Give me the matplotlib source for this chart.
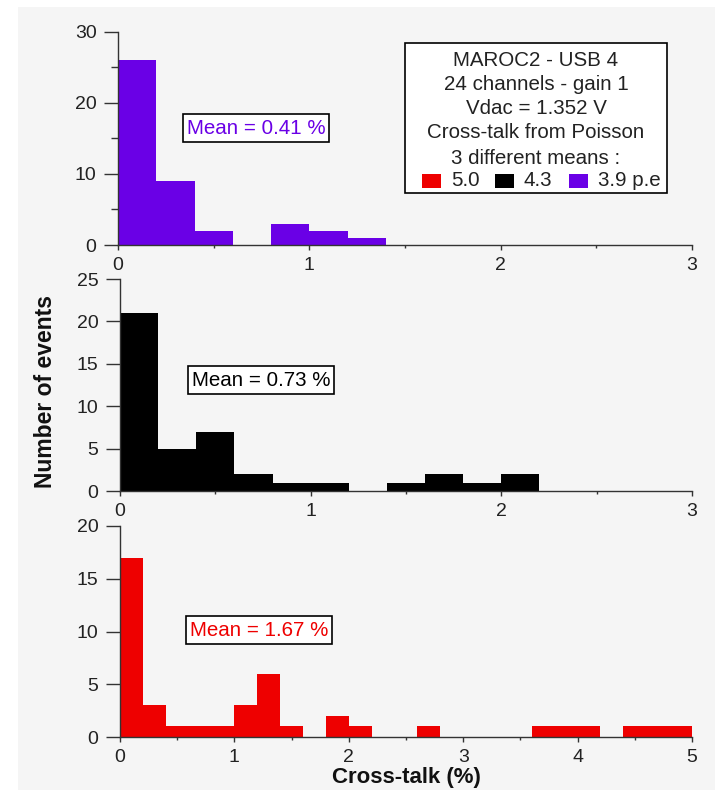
import numpy as np
import matplotlib
matplotlib.use("Agg")
import matplotlib.pyplot as plt
from matplotlib.patches import Rectangle

plt.rcParams['font.family'] = ['Liberation Sans', 'DejaVu Sans']

# ---- data ----
bin_width = 0.2
counts_39 = [26, 9, 2, 0, 3, 2, 1, 0, 0, 0, 0, 0, 0, 0, 0]           # 3.9 p.e (purple), 0..3
counts_43 = [21, 5, 7, 2, 1, 1, 0, 1, 2, 1, 2, 0, 0, 0, 0]           # 4.3 p.e (black), 0..3
counts_50 = [17, 3, 1, 1, 1, 3, 6, 1, 0, 2, 1, 0, 0, 1, 0, 0, 0, 0,
             1, 1, 1, 0, 1, 1, 1]                                     # 5.0 p.e (red), 0..5
means = ["0.41", "0.73", "1.67"]
legend_lines = ["MAROC2 - USB 4", "24 channels - gain 1", "Vdac = 1.352 V",
                "Cross-talk from Poisson", "3 different means :"]
legend_items = [("5.0", "#ee0000"), ("4.3", "#000000"), ("3.9 p.e", "#6a00e6")]

purple = "#6a00e6"
red = "#ee0000"
black = "#000000"
bg = "#f5f5f5"
axcol = "#333333"

fig = plt.figure(figsize=(7.15, 7.9), dpi=100, facecolor="white")
fig.patches.append(Rectangle((18/715, 0), 1 - 18/715, 1 - 7/790, transform=fig.transFigure,
                             facecolor=bg, edgecolor="none", zorder=-5))

panels = [
    dict(counts=counts_39, color=purple, xmax=3, ymax=30, ymaj=10, ymin=5,
         pos=[118/715, 1-245/790, 574/715, 213.5/790], mean=means[0], mpos=(256, 128)),
    dict(counts=counts_43, color=black, xmax=3, ymax=25, ymaj=5, ymin=None,
         pos=[120/715, 1-491/790, 572/715, 212/790], mean=means[1], mpos=(261, 380)),
    dict(counts=counts_50, color=red, xmax=5, ymax=20, ymaj=5, ymin=None,
         pos=[120/715, 1-737/790, 572/715, 211/790], mean=means[2], mpos=(259, 630)),
]

for p in panels:
    ax = fig.add_axes(p["pos"])
    ax.set_facecolor("none")
    n = len(p["counts"])
    edges = np.arange(n + 1) * bin_width
    ax.stairs(p["counts"], edges, fill=True, color=p["color"], lw=1.5, baseline=0,
              clip_on=False)
    ax.set_xlim(0, p["xmax"])
    ax.set_ylim(0, p["ymax"])
    for s in ["top", "right"]:
        ax.spines[s].set_visible(False)
    for s in ["left", "bottom"]:
        ax.spines[s].set_color(axcol)
        ax.spines[s].set_linewidth(1.0)
    ax.set_xticks(np.arange(0, p["xmax"] + 0.01, 1))
    ax.set_xticks(np.arange(0.5, p["xmax"], 1), minor=True)
    ax.set_yticks(np.arange(0, p["ymax"] + 0.01, p["ymaj"]))
    if p["ymin"]:
        ax.set_yticks(np.arange(p["ymin"], p["ymax"], p["ymaj"]), minor=True)
    ax.tick_params(axis="y", which="major", length=10, width=1.0, color=axcol, labelsize=14,
                   labelcolor="#222222", direction="out", pad=5.5)
    ax.tick_params(axis="y", which="minor", length=5, width=1.0, color=axcol, direction="out")
    ax.tick_params(axis="x", which="major", length=3.5, width=1.0, color=axcol, labelsize=14,
                   labelcolor="#222222", direction="out", pad=5.5)
    ax.tick_params(axis="x", which="minor", length=2, width=1.0, color=axcol, direction="out")
    ax.xaxis.set_major_formatter(matplotlib.ticker.FuncFormatter(lambda v, _: f"{int(round(v))}"))
    fig.text(p["mpos"][0]/715, 1 - p["mpos"][1]/790, f"Mean = {p['mean']} %",
             ha="center", va="center", fontsize=14.8, color=p["color"], zorder=5,
             bbox=dict(boxstyle="square,pad=0.2", facecolor="white", edgecolor="black", lw=1.2))

# legend box
lx0, ly0, lx1, ly1 = 405, 43, 667, 193
fig.patches.append(Rectangle((lx0/715, 1-ly1/790), (lx1-lx0)/715, (ly1-ly0)/790,
                             transform=fig.transFigure, facecolor="white", edgecolor="black",
                             lw=1.2, zorder=3))
cx = (lx0 + lx1) / 2
line_y = [60, 85, 109, 133, 158]
for line, y in zip(legend_lines, line_y):
    fig.text(cx/715, 1 - y/790, line, ha="center", va="center",
             fontsize=14.8, color="#222222", zorder=4)
ry = 181
item_x = [422, 495, 569]
for (lab, col), x in zip(legend_items, item_x):
    fig.patches.append(Rectangle((x/715, 1-(ry+7)/790), 19/715, 14/790, transform=fig.transFigure,
                                 facecolor=col, edgecolor="none", zorder=4))
    fig.text((x+29)/715, 1 - ry/790, lab, ha="left", va="center", fontsize=14.8,
             color="#222222", zorder=4)

fig.text(45/715, 1 - 392/790, "Number of events", rotation=90, ha="center", va="center",
         fontsize=16.5, fontweight="bold", color="#111111")
fig.text(406/715, 1 - 777/790, "Cross-talk (%)", ha="center", va="center",
         fontsize=16, fontweight="bold", color="#111111")

fig.savefig("out.png", dpi=100, facecolor="white")
